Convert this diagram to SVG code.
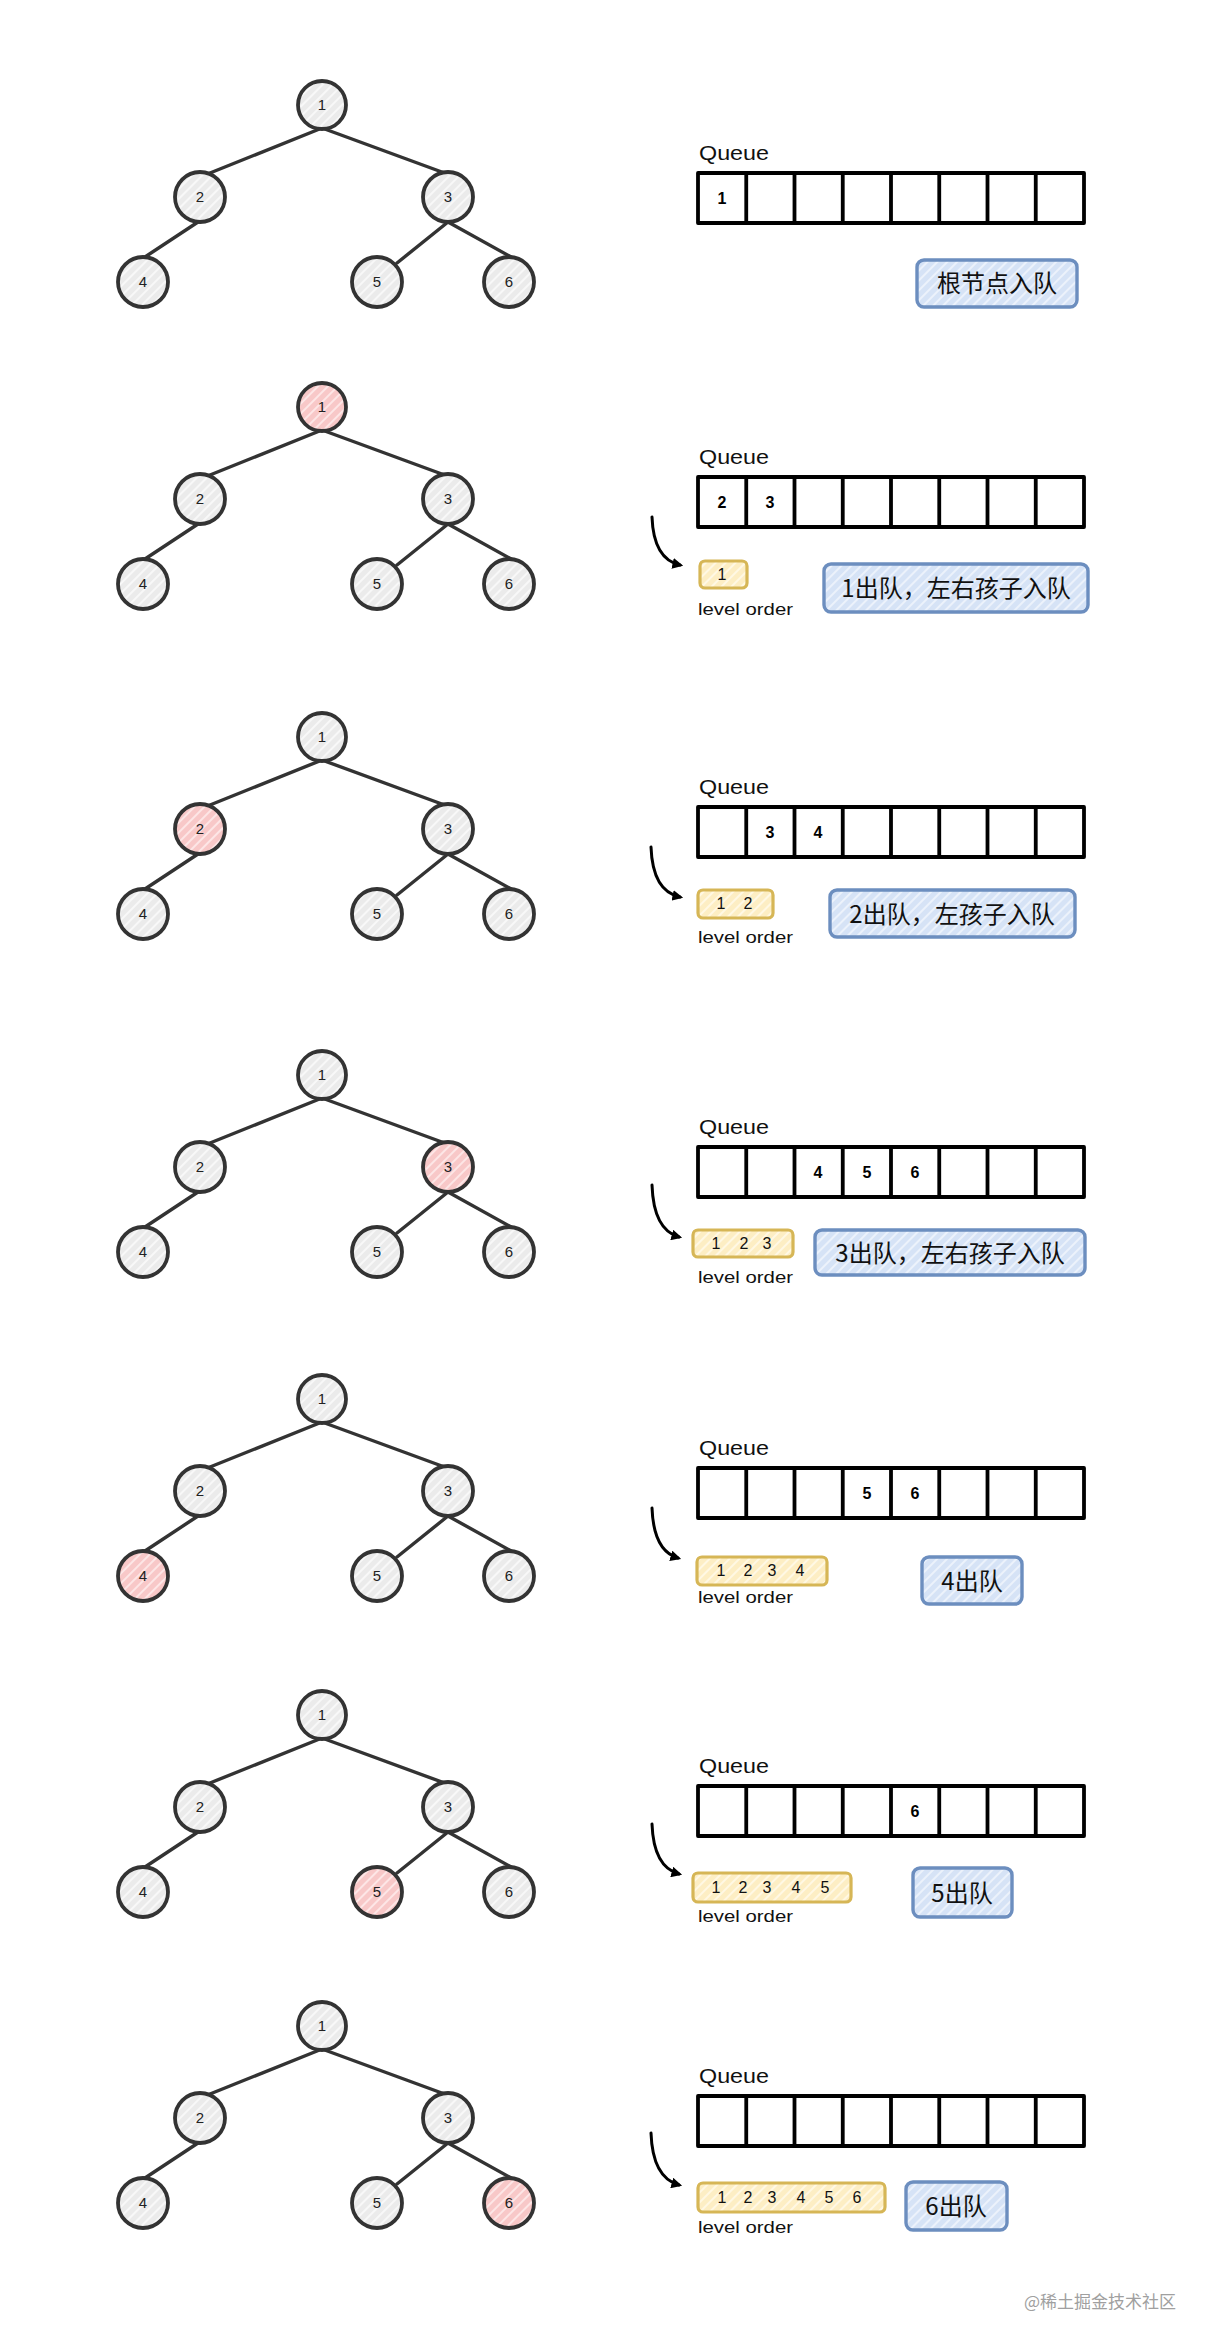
<svg xmlns="http://www.w3.org/2000/svg" width="1222" height="2349" viewBox="0 0 1222 2349">
<style>
.bg{fill:#ffffff}
.nd{stroke:#333333;stroke-width:3.8;fill:url(#hg)}
.nd.cur{fill:url(#hp)}
.nt{font-family:"Liberation Sans",Arial,sans-serif;font-size:15px;fill:#222;text-anchor:middle}
.ed{stroke:#333333;stroke-width:3.4;stroke-linecap:round;fill:none}
.q{fill:none;stroke:#000;stroke-width:3.8;stroke-linejoin:round}
.qd{stroke:#000;stroke-width:3.8}
.ql{font-family:"Liberation Sans",Arial,sans-serif;font-size:20px;fill:#111}
.qn{font-family:"Liberation Sans",Arial,sans-serif;font-size:16px;font-weight:bold;fill:#000;text-anchor:middle}
.yb{fill:url(#hy);stroke:#d6b656;stroke-width:3.2;}
.yn{font-family:"Liberation Sans",Arial,sans-serif;font-size:16px;fill:#111;text-anchor:middle}
.lo{font-family:"Liberation Sans",Arial,sans-serif;font-size:17px;fill:#111}
.bb{fill:url(#hb);stroke:#6c8ebf;stroke-width:3.4;}
.bt{font-family:"Noto Sans CJK SC","Noto Sans",sans-serif;font-size:24px;fill:#111;text-anchor:middle}
.ar{fill:none;stroke:#000;stroke-width:3;stroke-linecap:round}
.wm{font-family:"Noto Sans CJK SC",sans-serif;font-size:17px;fill:#a0a0a0}
</style>
<defs>
<pattern id="hg" width="7" height="7" patternUnits="userSpaceOnUse" patternTransform="rotate(45)"><rect width="7" height="7" fill="#ebebeb"/><line x1="1" y1="0" x2="1" y2="7" stroke="#f8f8f8" stroke-width="2"/></pattern>
<pattern id="hp" width="7" height="7" patternUnits="userSpaceOnUse" patternTransform="rotate(45)"><rect width="7" height="7" fill="#f8c8c8"/><line x1="1" y1="0" x2="1" y2="7" stroke="#fde6e6" stroke-width="2"/></pattern>
<pattern id="hb" width="7" height="7" patternUnits="userSpaceOnUse" patternTransform="rotate(45)"><rect width="7" height="7" fill="#d6e3f6"/><line x1="1" y1="0" x2="1" y2="7" stroke="#ecf2fb" stroke-width="2"/></pattern>
<pattern id="hy" width="7" height="7" patternUnits="userSpaceOnUse" patternTransform="rotate(45)"><rect width="7" height="7" fill="#fdeec4"/><line x1="1" y1="0" x2="1" y2="7" stroke="#fff8e4" stroke-width="2"/></pattern>
<marker id="ah" viewBox="0 0 10 10" refX="7" refY="5" markerWidth="3.6" markerHeight="3.6" orient="auto" markerUnits="strokeWidth"><path d="M0,0 L10,5 L0,10 z" fill="#000"/></marker>
</defs>
<rect class="bg" x="0" y="0" width="1222" height="2349"/>

<g id="connectors">
<!-- panel 1 R=105 -->
<path class="ed" d="M322,128L205,175M322,128L450,175M198,222L145,257M448,222L397,263M448,222L513,258"/>
<!-- panel 2 R=407 -->
<path class="ed" d="M322,430L205,477M322,430L450,477M198,524L145,559M448,524L397,565M448,524L513,560"/>
<path class="ar" d="M652,517 C653,545 662,561 680,565" marker-end="url(#ah)"/>
<!-- panel 3 R=737 -->
<path class="ed" d="M322,760L205,807M322,760L450,807M198,854L145,889M448,854L397,895M448,854L513,890"/>
<path class="ar" d="M651,847 C652,875 661,893 680,897" marker-end="url(#ah)"/>
<!-- panel 4 R=1075 -->
<path class="ed" d="M322,1098L205,1145M322,1098L450,1145M198,1192L145,1227M448,1192L397,1233M448,1192L513,1228"/>
<path class="ar" d="M652,1185 C653,1214 661,1232 679,1237" marker-end="url(#ah)"/>
<!-- panel 5 R=1399 -->
<path class="ed" d="M322,1422L205,1469M322,1422L450,1469M198,1516L145,1551M448,1516L397,1557M448,1516L513,1552"/>
<path class="ar" d="M652,1508 C653,1536 661,1553 678,1558" marker-end="url(#ah)"/>
<!-- panel 6 R=1715 -->
<path class="ed" d="M322,1738L205,1785M322,1738L450,1785M198,1832L145,1867M448,1832L397,1873M448,1832L513,1868"/>
<path class="ar" d="M652,1824 C653,1852 661,1869 679,1874" marker-end="url(#ah)"/>
<!-- panel 7 R=2026 -->
<path class="ed" d="M322,2049L205,2096M322,2049L450,2096M198,2143L145,2178M448,2143L397,2184M448,2143L513,2179"/>
<path class="ar" d="M651,2133 C652,2162 661,2180 679,2185" marker-end="url(#ah)"/>
</g>

<!-- ===== Panel 1 ===== -->
<g id="p1-n1"><circle class="nd" cx="322" cy="105" r="24"/><text class="nt" x="322" y="110">1</text></g>
<g id="p1-n2"><circle class="nd" cx="200" cy="197" r="25"/><text class="nt" x="200" y="202">2</text></g>
<g id="p1-n3"><circle class="nd" cx="448" cy="197" r="25"/><text class="nt" x="448" y="202">3</text></g>
<g id="p1-n4"><circle class="nd" cx="143" cy="282" r="25"/><text class="nt" x="143" y="287">4</text></g>
<g id="p1-n5"><circle class="nd" cx="377" cy="282" r="25"/><text class="nt" x="377" y="287">5</text></g>
<g id="p1-n6"><circle class="nd" cx="509" cy="282" r="25"/><text class="nt" x="509" y="287">6</text></g>
<g id="p1-queue">
<text class="ql" x="699" y="160" textLength="70" lengthAdjust="spacingAndGlyphs">Queue</text>
<rect class="q" x="698" y="173" width="386" height="50"/>
<path class="qd" d="M746.25,173V223M794.5,173V223M842.75,173V223M891,173V223M939.25,173V223M987.5,173V223M1035.75,173V223"/>
<text class="qn" x="722" y="204">1</text>
</g>
<g id="p1-label"><rect class="bb" x="917" y="260" width="160" height="47" rx="7"/><text class="bt" x="997" y="292">根节点入队</text></g>

<!-- ===== Panel 2 ===== -->
<g id="p2-n1"><circle class="nd cur" cx="322" cy="407" r="24"/><text class="nt" x="322" y="412">1</text></g>
<g id="p2-n2"><circle class="nd" cx="200" cy="499" r="25"/><text class="nt" x="200" y="504">2</text></g>
<g id="p2-n3"><circle class="nd" cx="448" cy="499" r="25"/><text class="nt" x="448" y="504">3</text></g>
<g id="p2-n4"><circle class="nd" cx="143" cy="584" r="25"/><text class="nt" x="143" y="589">4</text></g>
<g id="p2-n5"><circle class="nd" cx="377" cy="584" r="25"/><text class="nt" x="377" y="589">5</text></g>
<g id="p2-n6"><circle class="nd" cx="509" cy="584" r="25"/><text class="nt" x="509" y="589">6</text></g>
<g id="p2-queue">
<text class="ql" x="699" y="464" textLength="70" lengthAdjust="spacingAndGlyphs">Queue</text>
<rect class="q" x="698" y="477" width="386" height="50"/>
<path class="qd" d="M746.25,477V527M794.5,477V527M842.75,477V527M891,477V527M939.25,477V527M987.5,477V527M1035.75,477V527"/>
<text class="qn" x="722" y="508">2</text><text class="qn" x="770" y="508">3</text>
</g>
<g id="p2-order"><rect class="yb" x="700" y="561" width="47" height="27" rx="5"/><text class="yn" x="722" y="580">1</text>
<text class="lo" x="698" y="615" textLength="95" lengthAdjust="spacingAndGlyphs">level order</text></g>
<g id="p2-label"><rect class="bb" x="824" y="564" width="264" height="48" rx="7"/><text class="bt" x="956" y="597">1出队，左右孩子入队</text></g>

<!-- ===== Panel 3 ===== -->
<g id="p3-n1"><circle class="nd" cx="322" cy="737" r="24"/><text class="nt" x="322" y="742">1</text></g>
<g id="p3-n2"><circle class="nd cur" cx="200" cy="829" r="25"/><text class="nt" x="200" y="834">2</text></g>
<g id="p3-n3"><circle class="nd" cx="448" cy="829" r="25"/><text class="nt" x="448" y="834">3</text></g>
<g id="p3-n4"><circle class="nd" cx="143" cy="914" r="25"/><text class="nt" x="143" y="919">4</text></g>
<g id="p3-n5"><circle class="nd" cx="377" cy="914" r="25"/><text class="nt" x="377" y="919">5</text></g>
<g id="p3-n6"><circle class="nd" cx="509" cy="914" r="25"/><text class="nt" x="509" y="919">6</text></g>
<g id="p3-queue">
<text class="ql" x="699" y="794" textLength="70" lengthAdjust="spacingAndGlyphs">Queue</text>
<rect class="q" x="698" y="807" width="386" height="50"/>
<path class="qd" d="M746.25,807V857M794.5,807V857M842.75,807V857M891,807V857M939.25,807V857M987.5,807V857M1035.75,807V857"/>
<text class="qn" x="770" y="838">3</text><text class="qn" x="818" y="838">4</text>
</g>
<g id="p3-order"><rect class="yb" x="698" y="890" width="75" height="28" rx="5"/><text class="yn" x="721" y="909">1</text><text class="yn" x="748" y="909">2</text>
<text class="lo" x="698" y="943" textLength="95" lengthAdjust="spacingAndGlyphs">level order</text></g>
<g id="p3-label"><rect class="bb" x="830" y="890" width="245" height="47" rx="7"/><text class="bt" x="952" y="923">2出队，左孩子入队</text></g>

<!-- ===== Panel 4 ===== -->
<g id="p4-n1"><circle class="nd" cx="322" cy="1075" r="24"/><text class="nt" x="322" y="1080">1</text></g>
<g id="p4-n2"><circle class="nd" cx="200" cy="1167" r="25"/><text class="nt" x="200" y="1172">2</text></g>
<g id="p4-n3"><circle class="nd cur" cx="448" cy="1167" r="25"/><text class="nt" x="448" y="1172">3</text></g>
<g id="p4-n4"><circle class="nd" cx="143" cy="1252" r="25"/><text class="nt" x="143" y="1257">4</text></g>
<g id="p4-n5"><circle class="nd" cx="377" cy="1252" r="25"/><text class="nt" x="377" y="1257">5</text></g>
<g id="p4-n6"><circle class="nd" cx="509" cy="1252" r="25"/><text class="nt" x="509" y="1257">6</text></g>
<g id="p4-queue">
<text class="ql" x="699" y="1134" textLength="70" lengthAdjust="spacingAndGlyphs">Queue</text>
<rect class="q" x="698" y="1147" width="386" height="50"/>
<path class="qd" d="M746.25,1147V1197M794.5,1147V1197M842.75,1147V1197M891,1147V1197M939.25,1147V1197M987.5,1147V1197M1035.75,1147V1197"/>
<text class="qn" x="818" y="1178">4</text><text class="qn" x="867" y="1178">5</text><text class="qn" x="915" y="1178">6</text>
</g>
<g id="p4-order"><rect class="yb" x="693" y="1230" width="100" height="27" rx="5"/><text class="yn" x="716" y="1249">1</text><text class="yn" x="744" y="1249">2</text><text class="yn" x="767" y="1249">3</text>
<text class="lo" x="698" y="1283" textLength="95" lengthAdjust="spacingAndGlyphs">level order</text></g>
<g id="p4-label"><rect class="bb" x="815" y="1230" width="270" height="45" rx="7"/><text class="bt" x="950" y="1262">3出队，左右孩子入队</text></g>

<!-- ===== Panel 5 ===== -->
<g id="p5-n1"><circle class="nd" cx="322" cy="1399" r="24"/><text class="nt" x="322" y="1404">1</text></g>
<g id="p5-n2"><circle class="nd" cx="200" cy="1491" r="25"/><text class="nt" x="200" y="1496">2</text></g>
<g id="p5-n3"><circle class="nd" cx="448" cy="1491" r="25"/><text class="nt" x="448" y="1496">3</text></g>
<g id="p5-n4"><circle class="nd cur" cx="143" cy="1576" r="25"/><text class="nt" x="143" y="1581">4</text></g>
<g id="p5-n5"><circle class="nd" cx="377" cy="1576" r="25"/><text class="nt" x="377" y="1581">5</text></g>
<g id="p5-n6"><circle class="nd" cx="509" cy="1576" r="25"/><text class="nt" x="509" y="1581">6</text></g>
<g id="p5-queue">
<text class="ql" x="699" y="1455" textLength="70" lengthAdjust="spacingAndGlyphs">Queue</text>
<rect class="q" x="698" y="1468" width="386" height="50"/>
<path class="qd" d="M746.25,1468V1518M794.5,1468V1518M842.75,1468V1518M891,1468V1518M939.25,1468V1518M987.5,1468V1518M1035.75,1468V1518"/>
<text class="qn" x="867" y="1499">5</text><text class="qn" x="915" y="1499">6</text>
</g>
<g id="p5-order"><rect class="yb" x="697" y="1557" width="130" height="28" rx="5"/><text class="yn" x="721" y="1576">1</text><text class="yn" x="748" y="1576">2</text><text class="yn" x="772" y="1576">3</text><text class="yn" x="800" y="1576">4</text>
<text class="lo" x="698" y="1603" textLength="95" lengthAdjust="spacingAndGlyphs">level order</text></g>
<g id="p5-label"><rect class="bb" x="922" y="1557" width="100" height="47" rx="7"/><text class="bt" x="972" y="1590">4出队</text></g>

<!-- ===== Panel 6 ===== -->
<g id="p6-n1"><circle class="nd" cx="322" cy="1715" r="24"/><text class="nt" x="322" y="1720">1</text></g>
<g id="p6-n2"><circle class="nd" cx="200" cy="1807" r="25"/><text class="nt" x="200" y="1812">2</text></g>
<g id="p6-n3"><circle class="nd" cx="448" cy="1807" r="25"/><text class="nt" x="448" y="1812">3</text></g>
<g id="p6-n4"><circle class="nd" cx="143" cy="1892" r="25"/><text class="nt" x="143" y="1897">4</text></g>
<g id="p6-n5"><circle class="nd cur" cx="377" cy="1892" r="25"/><text class="nt" x="377" y="1897">5</text></g>
<g id="p6-n6"><circle class="nd" cx="509" cy="1892" r="25"/><text class="nt" x="509" y="1897">6</text></g>
<g id="p6-queue">
<text class="ql" x="699" y="1773" textLength="70" lengthAdjust="spacingAndGlyphs">Queue</text>
<rect class="q" x="698" y="1786" width="386" height="50"/>
<path class="qd" d="M746.25,1786V1836M794.5,1786V1836M842.75,1786V1836M891,1786V1836M939.25,1786V1836M987.5,1786V1836M1035.75,1786V1836"/>
<text class="qn" x="915" y="1817">6</text>
</g>
<g id="p6-order"><rect class="yb" x="693" y="1873" width="158" height="29" rx="5"/><text class="yn" x="716" y="1893">1</text><text class="yn" x="743" y="1893">2</text><text class="yn" x="767" y="1893">3</text><text class="yn" x="796" y="1893">4</text><text class="yn" x="825" y="1893">5</text>
<text class="lo" x="698" y="1922" textLength="95" lengthAdjust="spacingAndGlyphs">level order</text></g>
<g id="p6-label"><rect class="bb" x="913" y="1868" width="99" height="49" rx="7"/><text class="bt" x="962" y="1902">5出队</text></g>

<!-- ===== Panel 7 ===== -->
<g id="p7-n1"><circle class="nd" cx="322" cy="2026" r="24"/><text class="nt" x="322" y="2031">1</text></g>
<g id="p7-n2"><circle class="nd" cx="200" cy="2118" r="25"/><text class="nt" x="200" y="2123">2</text></g>
<g id="p7-n3"><circle class="nd" cx="448" cy="2118" r="25"/><text class="nt" x="448" y="2123">3</text></g>
<g id="p7-n4"><circle class="nd" cx="143" cy="2203" r="25"/><text class="nt" x="143" y="2208">4</text></g>
<g id="p7-n5"><circle class="nd" cx="377" cy="2203" r="25"/><text class="nt" x="377" y="2208">5</text></g>
<g id="p7-n6"><circle class="nd cur" cx="509" cy="2203" r="25"/><text class="nt" x="509" y="2208">6</text></g>
<g id="p7-queue">
<text class="ql" x="699" y="2083" textLength="70" lengthAdjust="spacingAndGlyphs">Queue</text>
<rect class="q" x="698" y="2096" width="386" height="50"/>
<path class="qd" d="M746.25,2096V2146M794.5,2096V2146M842.75,2096V2146M891,2096V2146M939.25,2096V2146M987.5,2096V2146M1035.75,2096V2146"/>
</g>
<g id="p7-order"><rect class="yb" x="698" y="2183" width="187" height="29" rx="5"/><text class="yn" x="722" y="2203">1</text><text class="yn" x="748" y="2203">2</text><text class="yn" x="772" y="2203">3</text><text class="yn" x="801" y="2203">4</text><text class="yn" x="829" y="2203">5</text><text class="yn" x="857" y="2203">6</text>
<text class="lo" x="698" y="2233" textLength="95" lengthAdjust="spacingAndGlyphs">level order</text></g>
<g id="p7-label"><rect class="bb" x="906" y="2182" width="101" height="48" rx="7"/><text class="bt" x="956" y="2215">6出队</text></g>

<text class="wm" x="1024" y="2308">@稀土掘金技术社区</text>
</svg>
